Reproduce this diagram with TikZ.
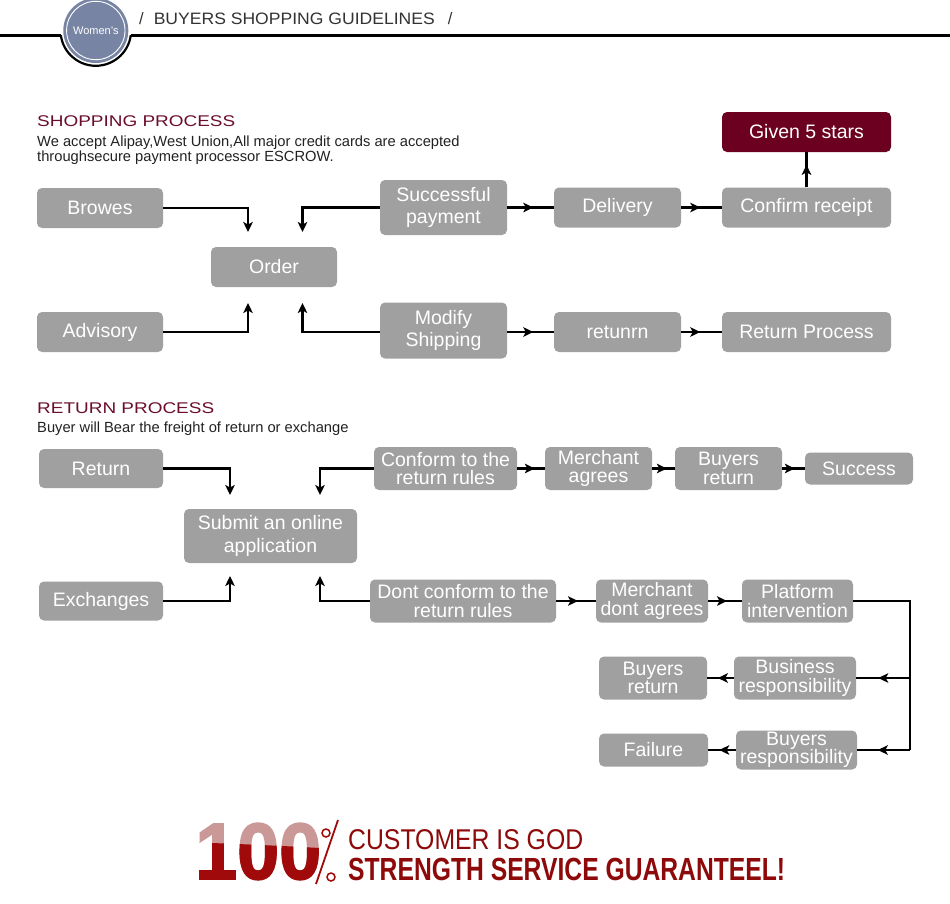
\documentclass[tikz,border=0pt]{standalone}
\usepackage{fontspec}
\setmainfont{Liberation Sans}
\newfontfamily\heavyfont{Liberation Sans Bold}[FakeBold=2]
\usetikzlibrary{arrows.meta,decorations.markings}
\definecolor{boxgray}{HTML}{A0A0A0}
\definecolor{starred}{HTML}{6C0020}
\definecolor{titlered}{HTML}{6B0E2E}
\definecolor{deepred}{HTML}{8E0A0A}
\definecolor{hundredred}{HTML}{A00A0A}
\definecolor{lightred}{HTML}{CB9898}
\definecolor{badgeblue}{HTML}{7784A4}
\definecolor{headgray}{HTML}{333333}
\definecolor{subgray}{HTML}{222222}
\begin{document}
\begin{tikzpicture}[x=1pt,y=-1pt,
  box/.style={fill=boxgray, rounded corners=5pt, text=white, align=center, inner sep=0pt,
    font=\fontsize{19.5}{22.5}\selectfont},
  rbox/.style={box, font=\fontsize{19.5}{18.5}\selectfont},
  conn/.style={line width=2.3pt, draw=black, line join=miter},
  endarrow/.style={-{Stealth[length=10pt,width=9.5pt,inset=2.5pt]}},
  midarrow/.style={postaction={decorate}, decoration={markings,
    mark=at position #1 with {\arrow{Stealth[length=10pt,width=9.5pt,inset=2.5pt]}}}},
  plain/.style={inner sep=0pt, anchor=base west}
]
\useasboundingbox (0,0) rectangle (950,903);
\fill[white] (0,0) rectangle (950,903);

% ---------- header ----------
\draw[line width=2.2pt] (0,35.5) -- (60.9,35.5);
\draw[line width=2.2pt] (130.7,35.5) -- (950,35.5);
\begin{scope}
  \clip (0,35.5) rectangle (950,90);
  \draw[line width=2.2pt] (95.8,30.5) circle[radius=35.3pt];
\end{scope}
\node[circle, fill=badgeblue, minimum size=65pt, inner sep=0pt] (badge) at (95.8,30.5) {};
\draw[white, line width=0.9pt] (badge.center) circle[radius=29.2pt];
\node[text=white, font=\fontsize{11}{12}\selectfont, inner sep=0pt] (badgetext) at (badge.center) {Women's};
\node[plain, text=headgray, font=\fontsize{16.5}{18}\selectfont] (headtitle) at (139,24.5)
  {/\hspace{10pt}\resizebox{281pt}{\height}{BUYERS SHOPPING GUIDELINES}\hspace{13pt}/};

% ---------- shopping process titles ----------
\node[plain, text=titlered, font=\fontsize{15.5}{16}\selectfont] (shoptitle) at (37,126)
  {\resizebox{198pt}{\height}{SHOPPING PROCESS}};
\node[plain, text=subgray, font=\fontsize{14.7}{16}\selectfont] (shopsub1) at (37,146)
  {We accept Alipay,West Union,All major credit cards are accepted};
\node[plain, text=subgray, font=\fontsize{14.7}{16}\selectfont] (shopsub2) at (37,161.5)
  {throughsecure payment processor ESCROW.};

% ---------- shopping nodes ----------
\node[box, minimum width=126pt, minimum height=40pt] (browes) at (100,208) {Browes};
\node[box, minimum width=127pt, minimum height=55pt] (pay) at (443.5,207.5) {Successful\\payment};
\node[box, minimum width=127pt, minimum height=40pt] (deliv) at (617.5,207.5) {Delivery};
\node[box, minimum width=169pt, minimum height=40pt] (confirm) at (806.5,207.5) {Confirm receipt};
\node[box, fill=starred, minimum width=169pt, minimum height=40pt] (stars) at (806.5,132) {Given 5 stars};
\node[box, minimum width=126pt, minimum height=40pt] (order) at (274,267) {Order};
\node[box, minimum width=126pt, minimum height=40pt] (advis) at (100,332) {Advisory};
\node[box, minimum width=127pt, minimum height=56pt] (modify) at (443.5,330.5) {Modify\\Shipping};
\node[box, minimum width=127pt, minimum height=40pt] (retn) at (617.5,332) {retunrn};
\node[box, minimum width=169pt, minimum height=40pt] (retproc) at (806.5,332) {Return Process};

\coordinate (oTL) at (248,232);
\coordinate (oTR) at (302.5,232);
\coordinate (oBL) at (248,303);
\coordinate (oBR) at (302.5,303);
\draw[conn, endarrow] (browes.east) -| (oTL);
\draw[conn, endarrow] (pay.west) -| (oTR);
\draw[conn, endarrow] (advis.east) -| (oBL);
\draw[conn, endarrow] (modify.west |- advis.east) -| (oBR);
\draw[conn, midarrow=0.56] (pay.east) -- (deliv.west);
\draw[conn, midarrow=0.47] (deliv.east) -- (confirm.west);
\draw[conn, midarrow=0.64] (confirm.north) -- (stars.south);
\draw[conn, midarrow=0.56] (modify.east |- retn.west) -- (retn.west);
\draw[conn, midarrow=0.47] (retn.east) -- (retproc.west);

% ---------- return process titles ----------
\node[plain, text=titlered, font=\fontsize{15.5}{16}\selectfont] (rettitle) at (37,413.5)
  {\resizebox{177pt}{\height}{RETURN PROCESS}};
\node[plain, text=subgray, font=\fontsize{14.7}{16}\selectfont] (retsub) at (37,432)
  {Buyer will Bear the freight of return or exchange};

% ---------- return nodes ----------
\node[box, minimum width=124pt, minimum height=39pt] (ret) at (101,468.5) {Return};
\node[box, minimum width=173pt, minimum height=54pt] (submit) at (270.5,536) {Submit an online\\application};
\node[box, minimum width=124pt, minimum height=39pt] (exch) at (101,601) {Exchanges};
\node[rbox, minimum width=143pt, minimum height=43pt] (conform) at (445.5,468.5) {Conform to the\\return rules};
\node[rbox, minimum width=107pt, minimum height=43pt] (magree) at (598.5,468.5) {Merchant\\agrees};
\node[rbox, minimum width=107pt, minimum height=43pt] (bret) at (728.5,468.5) {Buyers\\return};
\node[box, minimum width=108pt, minimum height=32pt] (succ) at (859,468.5) {Success};
\node[rbox, minimum width=186pt, minimum height=43pt] (dont) at (463,601) {Dont conform to the\\return rules};
\node[rbox, minimum width=112pt, minimum height=43pt] (mdont) at (652,601) {Merchant\\dont agrees};
\node[rbox, minimum width=111pt, minimum height=43pt] (platf) at (797.5,601) {Platform\\intervention};
\node[rbox, minimum width=122pt, minimum height=43pt] (busr) at (795,678) {Business\\responsibility};
\node[rbox, minimum width=108pt, minimum height=43pt] (bret2) at (653,678) {Buyers\\return};
\node[rbox, minimum width=121pt, minimum height=39pt] (buyr) at (796.5,750) {Buyers\\responsibility};
\node[box, minimum width=109pt, minimum height=33pt] (fail) at (653.5,750) {Failure};

\coordinate (sTL) at (230,495);
\coordinate (sTR) at (320,495);
\coordinate (sBL) at (230,576);
\coordinate (sBR) at (320,576);
\draw[conn, endarrow] (ret.east) -| (sTL);
\draw[conn, endarrow] (conform.west) -| (sTR);
\draw[conn, endarrow] (exch.east) -| (sBL);
\draw[conn, endarrow] (dont.west) -| (sBR);
\draw[conn, midarrow=0.64] (conform.east) -- (magree.west);
\draw[conn, midarrow=0.65] (magree.east) -- (bret.west);
\draw[conn, midarrow=0.56] (bret.east) -- (succ.west);
\draw[conn, midarrow=0.55] (dont.east) -- (mdont.west);
\draw[conn, midarrow=0.56] (mdont.east) -- (platf.west);

\coordinate (vtop) at (910,601);
\coordinate (vb1) at (910,678);
\coordinate (vb2) at (910,750);
\draw[conn] (platf.east) -- (vtop) -- (vb2);
\draw[conn, midarrow=0.59] (vb1) -- (busr.east);
\draw[conn, midarrow=0.61] (vb2) -- (buyr.east);
\draw[conn, midarrow=0.6] (busr.west) -- (bret2.east);
\draw[conn, midarrow=0.6] (buyr.west) -- (fail.east);

% ---------- bottom slogan ----------
\node[plain, text=lightred, font=\fontsize{80}{80}\heavyfont] (hundred) at (195,879)
  {\resizebox{126pt}{\height}{100}};
\begin{scope}
  \clip (185,842) .. controls (240,844) and (290,846) .. (335,849) -- (335,903) -- (185,903) -- cycle;
  \node[plain, text=hundredred, font=\fontsize{80}{80}\heavyfont] (hundredlow) at (195,879)
    {\resizebox{126pt}{\height}{100}};
\end{scope}
\draw[hundredred, line width=1.8pt] (338,820) -- (316,884);
\draw[hundredred, line width=1.5pt] (326,833) circle[radius=4pt];
\draw[hundredred, line width=1.5pt] (331,877) circle[radius=4pt];
\node[plain, text=deepred, font=\fontsize{28.6}{30}\selectfont] (godtext) at (348,849.3)
  {\resizebox{235pt}{\height}{CUSTOMER IS GOD}};
\node[plain, text=deepred, font=\fontsize{32}{34}\bfseries] (guarantee) at (348,880.5)
  {\resizebox{437pt}{\height}{STRENGTH SERVICE GUARANTEEL!}};
\end{tikzpicture}
\end{document}
